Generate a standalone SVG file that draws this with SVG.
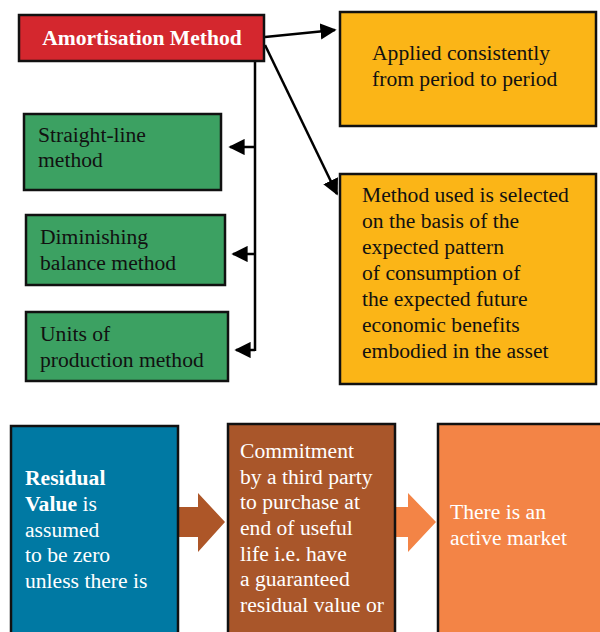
<svg xmlns="http://www.w3.org/2000/svg" width="600" height="632" viewBox="0 0 600 632">
<style>
.box{stroke:#111;stroke-width:2.5}
.t{font-family:"Liberation Serif","DejaVu Serif",serif;font-size:21.6px;fill:#111}
.w{fill:#fff}
.conn{stroke:#000;stroke-width:2.5;fill:none}
</style>
<defs>
<marker id="ah" viewBox="0 0 10 10" refX="9" refY="5" markerWidth="6.5" markerHeight="6.5" orient="auto" markerUnits="strokeWidth">
<path d="M0,0 L10,5 L0,10 z" fill="#000"/>
</marker>
</defs>
<rect width="600" height="632" fill="#fff"/>
<g id="connectors">
<line class="conn" x1="255" y1="61" x2="255" y2="351"/>
<line class="conn" x1="255" y1="147" x2="230" y2="147" marker-end="url(#ah)"/>
<line class="conn" x1="255" y1="254" x2="233" y2="254" marker-end="url(#ah)"/>
<line class="conn" x1="255" y1="350" x2="236" y2="350" marker-end="url(#ah)"/>
<line class="conn" x1="265" y1="37" x2="335" y2="30" marker-end="url(#ah)"/>
<line class="conn" x1="265" y1="45" x2="337" y2="194" marker-end="url(#ah)"/>
<path d="M178,507 H198 V493 L225,522 L198,552 V537 H178 z" fill="#ad5628"/>
<path d="M396,507 H408 V493 L436,522 L408,552 V537 H396 z" fill="#f38446"/>
</g>
<g id="amortisation">
<rect class="box" x="19" y="15" width="245" height="46" fill="#d4272e"/>
<text class="t w" x="142" y="45" text-anchor="middle" font-weight="bold" font-size="21">Amortisation Method</text>
</g>
<g id="straight">
<rect class="box" x="24" y="114" width="197" height="76" fill="#3ca162"/>
<text class="t" x="38" y="142">Straight-line</text>
<text class="t" x="38" y="167">method</text>
</g>
<g id="diminishing">
<rect class="box" x="26" y="215" width="199" height="70" fill="#3ca162"/>
<text class="t" x="40" y="244">Diminishing</text>
<text class="t" x="40" y="270">balance method</text>
</g>
<g id="units">
<rect class="box" x="26" y="312" width="202" height="69" fill="#3ca162"/>
<text class="t" x="40" y="341">Units of</text>
<text class="t" x="40" y="367">production method</text>
</g>
<g id="applied">
<rect class="box" x="340" y="12" width="256" height="114" fill="#fbb517"/>
<text class="t" x="372" y="60">Applied consistently</text>
<text class="t" x="372" y="86">from period to period</text>
</g>
<g id="selected">
<rect class="box" x="340" y="174" width="256" height="210" fill="#fbb517"/>
<text class="t" x="362" y="202">Method used is selected</text>
<text class="t" x="362" y="228">on the basis of the</text>
<text class="t" x="362" y="254">expected pattern</text>
<text class="t" x="362" y="280">of consumption of</text>
<text class="t" x="362" y="306">the expected future</text>
<text class="t" x="362" y="332">economic benefits</text>
<text class="t" x="362" y="358">embodied in the asset</text>
</g>
<g id="residual">
<rect class="box" x="11" y="426" width="167" height="220" fill="#0079a3"/>
<text class="t w" x="25" y="485" font-weight="bold">Residual</text>
<text class="t w" x="25" y="511"><tspan font-weight="bold">Value</tspan> is</text>
<text class="t w" x="25" y="537">assumed</text>
<text class="t w" x="25" y="562">to be zero</text>
<text class="t w" x="25" y="588">unless there is</text>
</g>
<g id="commitment">
<rect class="box" x="228" y="424" width="167" height="220" fill="#a9562a"/>
<text class="t w" x="240" y="458">Commitment</text>
<text class="t w" x="240" y="484">by a third party</text>
<text class="t w" x="240" y="509">to purchase at</text>
<text class="t w" x="240" y="535">end of useful</text>
<text class="t w" x="240" y="561">life i.e. have</text>
<text class="t w" x="240" y="586">a guaranteed</text>
<text class="t w" x="240" y="612">residual value or</text>
</g>
<g id="market">
<rect class="box" x="438" y="424" width="180" height="220" fill="#f38446"/>
<text class="t w" x="450" y="519">There is an</text>
<text class="t w" x="450" y="545">active market</text>
</g>
</svg>
